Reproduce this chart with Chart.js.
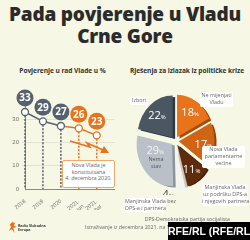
<!DOCTYPE html>
<html>
<head>
<meta charset="utf-8">
<script src="https://cdn.jsdelivr.net/npm/chart.js@4/dist/chart.umd.min.js"></script>
<style>
html, body { margin: 0; padding: 0; }
body { width: 250px; height: 240px; background: #f6f7e5; position: relative; overflow: hidden; font-family: "Open Sans", sans-serif; }
.abs { position: absolute; }
#title { left: 0; top: 3px; width: 250px; text-align: center; font-weight: 800; font-size: 19px; line-height: 22px; color: #2b2b2b; letter-spacing: -0.2px; }
.sub { font-weight: 700; font-size: 6.6px; color: #333; white-space: nowrap; text-align: center; letter-spacing: -0.05px; }
.box { background: #fff; border-radius: 2px; font-size: 5.4px; line-height: 7px; color: #666; text-align: center; white-space: nowrap; }
.note { font-size: 5.2px; color: #666; white-space: nowrap; }
#rfe { left: 168px; top: 222px; width: 82px; height: 18px; background: #000; color: #fff; font-family: "Liberation Sans", Arial, sans-serif; font-weight: 700; font-size: 10.5px; line-height: 18px; text-align: center; white-space: nowrap; }
</style>
</head>
<body>
<div id="title" class="abs">Pada povjerenje u Vladu<br>Crne Gore</div>
<div class="abs sub" style="left:10px; top:66px; width:105px;">Povjerenje u rad Vlade u %</div>
<div class="abs sub" style="left:126px; top:66px; width:122px;">Rješenja za izlazak iz političke krize</div>

<canvas id="trustChart" class="abs" style="left:0; top:80px;" width="120" height="130"></canvas>
<canvas id="pieChart" class="abs" style="left:125px; top:85px;" width="125" height="110"></canvas>

<div class="abs box" style="left:62px; top:160px; width:51px; height:25px; border:1px solid #f2a86a; padding-top:1px; line-height:6.7px; font-size:5.4px;">Nova Vlada je<br>konstituisana<br>4. decembra 2020.</div>

<div class="abs box" style="left:130px; top:97px; width:18px; height:8px;">Izbori</div>
<div class="abs box" style="left:200px; top:92px; width:33px; height:15px;">Ne mijenjati<br>Vladu</div>
<div class="abs box" style="left:202px; top:146px; width:43px; height:22px;">Nova Vlada<br>parlamentarne<br>većine</div>
<div class="abs box" style="left:202px; top:184px; width:46px; height:22px;">Manjinska Vlada<br>uz podršku DPS-a<br>i njegovih partnera</div>
<div class="abs box" style="left:125px; top:198px; width:41px; height:14px;">Manjinska Vlada bez<br>DPS-a i partnera</div>
<div class="abs" style="left:143px; top:156px; width:26px; font-size:5.4px; line-height:7px; color:#555; text-align:center;">Nema<br>stav</div>

<div class="abs note" style="right:20px; top:215px;">DPS-Demokratska partija socijalista</div>
<div class="abs note" style="left:85px; top:223px;">Istraživanje iz decembra 2021. na 1.039 ispitanika</div>

<div class="abs" style="left:9px; top:222px; width:8px; height:11px; background:#e8731a; clip-path:polygon(40% 0, 75% 10%, 60% 35%, 100% 45%, 55% 55%, 70% 100%, 35% 65%, 0 80%, 25% 45%, 10% 25%);"></div>
<div class="abs" style="left:18px; top:224px; font-size:3.6px; line-height:4px; color:#333; font-weight:700;">Radio Slobodna<br>Evropa</div>

<div id="rfe" class="abs">RFE/RL (RFE/RL)</div>

<script>
// Povjerenje u rad Vlade u %
const trustLabels = ["2018", "2019", "2020", ["2021.", "jun"], ["2021.", "decembar"], ""];
const trustValues = [33, 29, 27, 26, 23];
const oldGovernmentPoints = 3;

// Rješenja za izlazak iz političke krize
const pieCategories = ["Ne mijenjati Vladu", "Nova Vlada parlamentarne većine", "Manjinska Vlada uz podršku DPS-a i njegovih partnera", "Manjinska Vlada bez DPS-a i partnera", "Nema stav", "Izbori"];
const pieValues = [18, 17, 11, 4, 29, 22];

const GRAY = "#56616d";
const ORANGE = "#e8731a";
const pieColors = ["#e8731a", "#cf6414", "#5e2c0c", "#f3f3ef", "#bac0c7", "#4b5663"];
const pieDepthColors = ["#a34c0c", "#8f420a", "#3a1a06", "#c9c9c0", "#8c939b", "#2f3740"];
const pieLabelColors = ["#fff", "#fff", "#fff", "#444", "#f4f4f4", "#fff"];

const colorFor = i => i < oldGovernmentPoints ? GRAY : ORANGE;

const trustDecor = {
  id: "trustDecor",
  beforeDatasetsDraw(chart) {
    const ctx = chart.ctx;
    const bottom = chart.chartArea.bottom;
    ctx.save();
    ctx.setLineDash([2, 1.5]);
    ctx.lineWidth = 1.5;
    chart.getDatasetMeta(0).data.forEach((pt, i) => {
      ctx.strokeStyle = colorFor(i);
      ctx.beginPath();
      ctx.moveTo(pt.x, pt.y);
      ctx.lineTo(pt.x, bottom);
      ctx.stroke();
    });
    ctx.restore();
  },
  afterDatasetsDraw(chart) {
    const ctx = chart.ctx;
    ctx.save();
    // zigzag arrow
    const a = chart.chartArea;
    ctx.strokeStyle = ORANGE;
    ctx.fillStyle = ORANGE;
    ctx.lineWidth = 1.6;
    ctx.beginPath();
    ctx.moveTo(a.left + 45, 61);
    ctx.lineTo(a.left + 65, 67);
    ctx.lineTo(a.left + 62, 63);
    ctx.lineTo(a.left + 78, 70);
    ctx.stroke();
    ctx.beginPath();
    ctx.moveTo(a.left + 84, 73);
    ctx.lineTo(a.left + 75, 73);
    ctx.lineTo(a.left + 79, 66);
    ctx.closePath();
    ctx.fill();

    ctx.textAlign = "center";
    ctx.textBaseline = "middle";
    ctx.font = "bold 10px 'Open Sans', sans-serif";
    chart.getDatasetMeta(0).data.forEach((pt, i) => {
      const y = pt.y - 14;
      ctx.fillStyle = colorFor(i);
      ctx.beginPath();
      ctx.arc(pt.x, y, 8.5, 0, Math.PI * 2);
      ctx.fill();
      ctx.fillStyle = "#fff";
      ctx.fillText(trustValues[i], pt.x, y + 0.5);
    });
    ctx.restore();
  }
};

new Chart(document.getElementById("trustChart").getContext("2d"), {
  type: "line",
  data: {
    labels: trustLabels,
    datasets: [{
      data: trustValues,
      borderWidth: 1.5,
      borderColor: GRAY,
      segment: { borderColor: c => c.p1DataIndex >= oldGovernmentPoints ? ORANGE : GRAY },
      pointRadius: 3.5,
      pointBorderWidth: 1.3,
      pointBackgroundColor: "#fff",
      pointBorderColor: trustValues.map((_, i) => colorFor(i)),
      tension: 0,
    }],
  },
  options: {
    responsive: false,
    animation: false,
    layout: { padding: { top: 25, right: 5, left: 0, bottom: 0 } },
    plugins: { legend: { display: false }, tooltip: { enabled: false } },
    scales: {
      y: {
        min: 0,
        max: 36,
        afterFit: scale => { scale.width = 25; },
        ticks: { stepSize: 10, color: "#777", font: { size: 6 }, padding: 3, callback: v => v % 10 === 0 ? v : "" },
        grid: { color: c => c.tick && c.tick.value % 10 === 0 && c.tick.value > 0 ? "#e3e3d3" : "transparent", tickLength: 3 },
        border: { color: "#8a8a8a" },
      },
      x: {
        offset: false,
        afterFit: scale => { scale.height = 21; },
        ticks: { color: "#777", font: { size: 5.5 }, maxRotation: 40, minRotation: 40, padding: 1, autoSkip: false },
        grid: { display: false },
        border: { color: "#8a8a8a" },
      },
    },
  },
  plugins: [trustDecor],
});

const SQUASH = 0.84;
const PIE_OFFSET = 18;

const pieDecor = {
  id: "pieDecor",
  beforeDatasetsDraw(chart) {
    const ctx = chart.ctx;
    const arcs = chart.getDatasetMeta(0).data;
    const cx = arcs[0].x;
    ctx.save();
    ctx.translate(cx, 0);
    ctx.scale(SQUASH, 1);
    ctx.translate(-cx, 0);
    arcs.forEach((arc, i) => {
      const mid = (arc.startAngle + arc.endAngle) / 2;
      const off = PIE_OFFSET / 4;
      const x = arc.x + Math.cos(mid) * off + 3;
      const y = arc.y + Math.sin(mid) * off + 1.5;
      ctx.beginPath();
      ctx.moveTo(x, y);
      ctx.arc(x, y, arc.outerRadius, arc.startAngle, arc.endAngle);
      ctx.closePath();
      ctx.fillStyle = pieDepthColors[i];
      ctx.fill();
    });
  },
  afterDatasetsDraw(chart) {
    const ctx = chart.ctx;
    ctx.restore();
    ctx.save();
    const arcs = chart.getDatasetMeta(0).data;
    arcs.forEach((arc, i) => {
      const mid = (arc.startAngle + arc.endAngle) / 2;
      const small = pieValues[i] < 5;
      let r = small ? arc.outerRadius + 12 : arc.outerRadius * 0.7 + PIE_OFFSET / 4;
      let x = arc.x + Math.cos(mid) * r * SQUASH;
      let y = arc.y + Math.sin(mid) * r;
      if (small) x -= 14;
      if (pieCategories[i] === "Nema stav") { y -= 13; x += 2; }
      const num = String(pieValues[i]);
      ctx.font = "11px 'Open Sans', sans-serif";
      const w1 = ctx.measureText(num).width;
      ctx.font = "6px 'Open Sans', sans-serif";
      const w2 = ctx.measureText("%").width;
      const start = x - (w1 + w2) / 2;
      ctx.fillStyle = pieLabelColors[i];
      ctx.textBaseline = "alphabetic";
      ctx.textAlign = "left";
      ctx.font = "11px 'Open Sans', sans-serif";
      ctx.fillText(num, start, y + 4);
      ctx.font = "6px 'Open Sans', sans-serif";
      ctx.fillText("%", start + w1, y + 4);
    });
    ctx.restore();
  }
};

new Chart(document.getElementById("pieChart").getContext("2d"), {
  type: "pie",
  data: {
    labels: pieCategories,
    datasets: [{
      data: pieValues,
      backgroundColor: pieColors,
      borderWidth: 0,
      offset: PIE_OFFSET,
      radius: 42,
    }],
  },
  options: {
    responsive: false,
    animation: false,
    layout: { padding: { top: 2, right: 25, left: 0, bottom: 0 } },
    plugins: { legend: { display: false }, tooltip: { enabled: false } },
  },
  plugins: [pieDecor],
});
</script>
</body>
</html>
